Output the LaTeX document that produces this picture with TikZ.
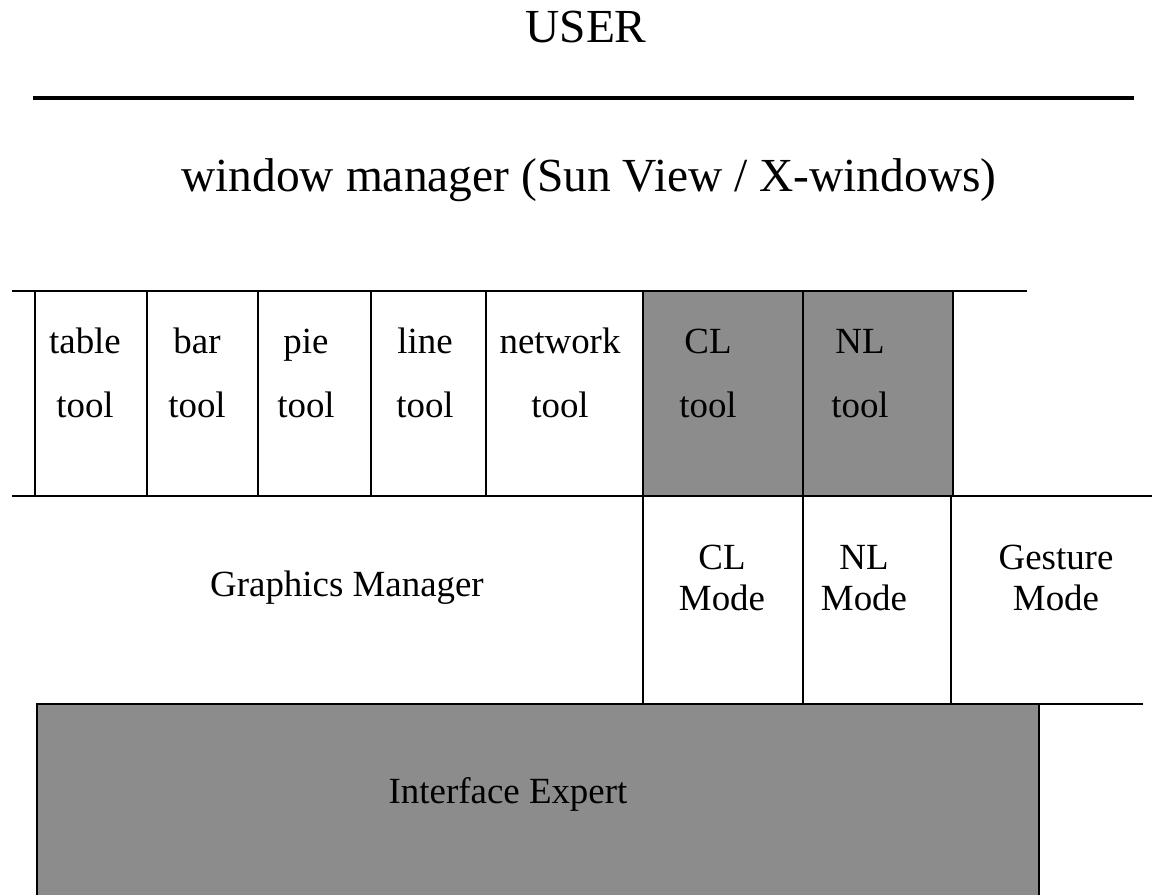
\documentclass[tikz,border=0pt]{standalone}
\usepackage{fontspec}
\setmainfont{Liberation Serif}
\tikzset{
  lbl/.style={font=\fontsize{21}{25}\selectfont, anchor=base, inner sep=0pt},
  biglbl/.style={font=\fontsize{27}{32}\selectfont, anchor=base, inner sep=0pt},
  rule/.style={line width=1.5pt},
  thinrule/.style={line width=1.1pt},
  shaded/.style={fill=black!45, draw=black, line width=1.3pt}
}
\begin{document}
\begin{tikzpicture}[x=0.02cm,y=-0.02cm]
  \useasboundingbox (0,0) rectangle (1157,895);
  \node[biglbl] (user) at (586,43) {USER};
  \draw[rule,line width=2pt] (33,98) -- (1134,98);
  \node[biglbl] (wm) at (589,192) {window manager (Sun View / X-windows)};
  % tools
  \fill[black!45] (643,291) rectangle (953,496);
  \draw[rule] (12,291) -- (1027,291);
  \draw[rule] (12,496) -- (1152,496);
  \foreach \x in {35,147,258,371,486,643,803,953}
    \draw[thinrule] (\x,291) -- (\x,496);
  \foreach \x/\t [count=\i] in {85/table,197/bar,306/pie,425/line,560/network,708/CL,860/NL}{
    \node[lbl] (tool-\i-a) at (\x,354) {\t};
    \node[lbl] (tool-\i-b) at (\x,418) {tool};
  }
  % modes
  \foreach \x in {643,803,951}
    \draw[thinrule] (\x,496) -- (\x,704);
  \node[lbl] (gm) at (347,596) {Graphics Manager};
  \foreach \x/\t [count=\i] in {722/CL,864/NL,1056/Gesture}{
    \node[lbl] (mode-\i-a) at (\x,569) {\t};
    \node[lbl] (mode-\i-b) at (\x,610) {Mode};
  }
  % interface expert
  \draw[shaded] (37,704) rectangle (1039,900);
  \draw[rule] (1039,704) -- (1143,704);
  \node[lbl] (ie) at (508,803) {Interface Expert};
\end{tikzpicture}
\end{document}
